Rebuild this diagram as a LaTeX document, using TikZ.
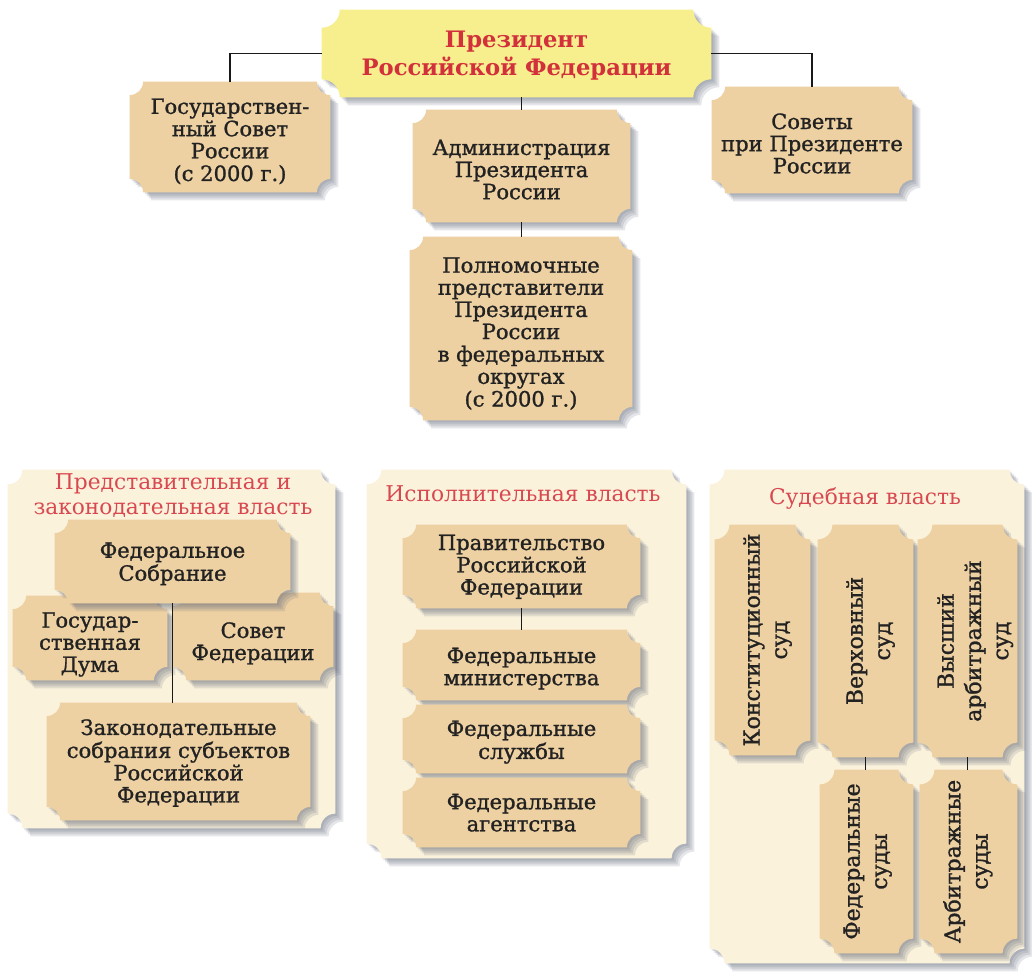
\documentclass[tikz,border=0pt]{standalone}
\usepackage{fontspec}
\setmainfont{DejaVu Serif}
\newfontfamily\bxfont{DejaVu Serif}[FakeBold=1.2]
\usepackage{graphicx}
\usetikzlibrary{calc}
\pgfdeclarelayer{lbg}
\pgfdeclarelayer{lpanel}
\pgfdeclarelayer{lbox}
\pgfsetlayers{lbg,lpanel,lbox,main}
\definecolor{boxc}{HTML}{EED1A3}
\definecolor{panelc}{HTML}{FBF2DC}
\definecolor{presc}{HTML}{F7EF8E}
\definecolor{redt}{HTML}{D2303A}
\definecolor{redp}{HTML}{D84850}
\definecolor{txt}{HTML}{222222}
\definecolor{shad}{HTML}{5E6478}
\newcommand\tktpath[3]{let \p1=(#1.south west), \p2=(#1.north east) in
  (\x1+#2+#3,\y1-#3) -- (\x2-#2+#3,\y1-#3) arc[start angle=180,end angle=90,radius=#2]
  -- (\x2+#3,\y2-#2-#3) arc[start angle=270,end angle=180,radius=#2]
  -- (\x1+#2+#3,\y2-#3) arc[start angle=0,end angle=-90,radius=#2]
  -- (\x1+#3,\y1+#2-#3) arc[start angle=90,end angle=0,radius=#2] -- cycle}
\newcommand\tkt[3]{%
  \foreach \s in {6pt,4.5pt,3pt,1.5pt}{%
    \fill[shad, opacity=0.16] \tktpath{#1}{#2}{\s};
  }%
  \fill[#3] \tktpath{#1}{#2}{0pt};
}
% text block, lowered without changing its metrics
\newcommand\bxt[2][3pt]{\raisebox{-#1}[\height][\depth]{\begin{tabular}{@{}c@{}}#2\end{tabular}}}
\newcommand\vt[2][0pt]{\rotatebox{90}{\raisebox{-#1}[\height][\depth]{\renewcommand\arraystretch{1.05}\begin{tabular}{@{}c@{}}#2\end{tabular}}}}
\begin{document}
\begin{tikzpicture}[x=0.75pt,y=0.75pt,
  bx/.style={inner sep=0pt, align=center, text=txt, font=\bxfont\fontsize{15.8}{16.6}\selectfont},
  vbx/.style={bx, font=\bxfont\fontsize{16.5}{19.5}\selectfont},
  sz/.style 2 args={minimum width=#1*0.75pt, minimum height=#2*0.75pt},
  ttl/.style={inner sep=0pt, text=redp, align=center, font=\fontsize{16.3}{18.8}\selectfont},
  conn/.style={draw=black!90, line width=1.3pt}]

\begin{pgfonlayer}{lbg}
\fill[white] (0,0) rectangle (1032,-975);
\end{pgfonlayer}
\useasboundingbox (0,0) rectangle (1032,-975);

% top part
\node[bx, sz={389}{87}, text=redt, font=\bfseries\fontsize{17}{20.5}\selectfont] (pres) at (516.5,-53.5) {\bxt[2pt]{Президент\\Российской Федерации}};
\node[bx, sz={200}{110}] (gos) at (230,-137) {\bxt[4.5pt]{Государствен-\\ный Совет\\России\\(с 2000 г.)}};
\node[bx, sz={217}{112}] (adm) at (521.5,-166) {\bxt[5pt]{Администрация\\Президента\\России}};
\node[bx, sz={222}{183}] (pol) at (521,-328.5) {\bxt[5pt]{Полномочные\\представители\\Президента\\России\\в федеральных\\округах\\(с 2000 г.)}};
\node[bx, sz={200}{106}] (sov) at (812,-140) {\bxt[5pt]{Советы\\при Президенте\\России}};

% panels
\node[sz={327}{358}] (p1) at (171.5,-649) {};
\node[sz={319}{388}] (p2) at (526.5,-664) {};
\node[sz={314}{493}] (p3) at (867,-716.5) {};
\node[ttl] (t1) at (173,-496) {Представительная и\\законодательная власть};
\node[ttl] (t2) at (523,-494) {Исполнительная власть};
\node[ttl] (t3) at (865,-498) {Судебная власть};

% left panel
\node[bx, sz={154}{84}] (duma) at (90,-638) {\bxt[5.5pt]{Государ-\\ственная\\Дума}};
\node[bx, sz={160}{87}] (sovf) at (253,-636.5) {\bxt[6pt]{Совет\\Федерации}};
\node[bx, sz={235}{83}] (sobr) at (172.5,-561.5) {\bxt[2.5pt]{Федеральное\\Собрание}};
\node[bx, sz={263}{117}] (zak) at (178.5,-761.5) {\bxt[2pt]{Законодательные\\собрания субъектов\\Российской\\Федерации}};

% middle panel
\node[bx, sz={237}{83}] (prav) at (521.5,-566.5) {\bxt[1pt]{Правительство\\Российской\\Федерации}};
\node[bx, sz={237}{70}] (min) at (521.5,-665) {\bxt[3.5pt]{Федеральные\\министерства}};
\node[bx, sz={237}{68}] (sl) at (521.5,-739) {\bxt[3pt]{Федеральные\\службы}};
\node[bx, sz={237}{69}] (ag) at (521.5,-812.5) {\bxt[2.5pt]{Федеральные\\агентства}};

% right panel
\node[vbx, sz={95}{230}] (kon) at (762.5,-640) {\vt[4pt]{Конституционный\\суд}};
\node[vbx, sz={95}{232}] (ver) at (865.5,-641) {\vt[4pt]{Верховный\\суд}};
\node[vbx, sz={99}{232}] (vys) at (967.5,-641) {\vt[6pt]{Высший\\арбитражный\\суд}};
\node[vbx, sz={93}{183}] (fed) at (866.5,-861.5) {\vt[1pt]{Федеральные\\суды}};
\node[vbx, sz={97}{183}] (arb) at (968.5,-861.5) {\vt[0pt]{Арбитражные\\суды}};

% backgrounds
\begin{pgfonlayer}{lpanel}
  \tkt{p1}{11pt}{panelc}
  \tkt{p2}{11pt}{panelc}
  \tkt{p3}{11pt}{panelc}
\end{pgfonlayer}
\begin{pgfonlayer}{lbox}
  \tkt{pres}{13.5pt}{presc}
  \tkt{gos}{10pt}{boxc}
  \tkt{adm}{10pt}{boxc}
  \tkt{pol}{10pt}{boxc}
  \tkt{sov}{10pt}{boxc}
  \tkt{duma}{10pt}{boxc}
  \tkt{sovf}{10pt}{boxc}
  \tkt{sobr}{10pt}{boxc}
  \tkt{zak}{10pt}{boxc}
  \tkt{prav}{10pt}{boxc}
  \tkt{min}{10pt}{boxc}
  \tkt{sl}{10pt}{boxc}
  \tkt{ag}{10pt}{boxc}
  \tkt{kon}{11pt}{boxc}
  \tkt{ver}{11pt}{boxc}
  \tkt{vys}{11pt}{boxc}
  \tkt{fed}{11pt}{boxc}
  \tkt{arb}{11pt}{boxc}
\end{pgfonlayer}

% connectors
\draw[conn] (pres.west) -| (gos.north);
\draw[conn] (pres.east) -| (sov.north);
\draw[conn] (adm.north |- pres.south) -- (adm.north);
\draw[conn] (adm.south) -- (adm.south |- pol.north);
\draw[conn] (sobr.south) -- (sobr.south |- zak.north);
\draw[conn] (prav.south) -- (min.north);
\draw[conn] (ver.south) -- (ver.south |- fed.north);
\draw[conn] (vys.south) -- (vys.south |- arb.north);
\end{tikzpicture}
\end{document}
